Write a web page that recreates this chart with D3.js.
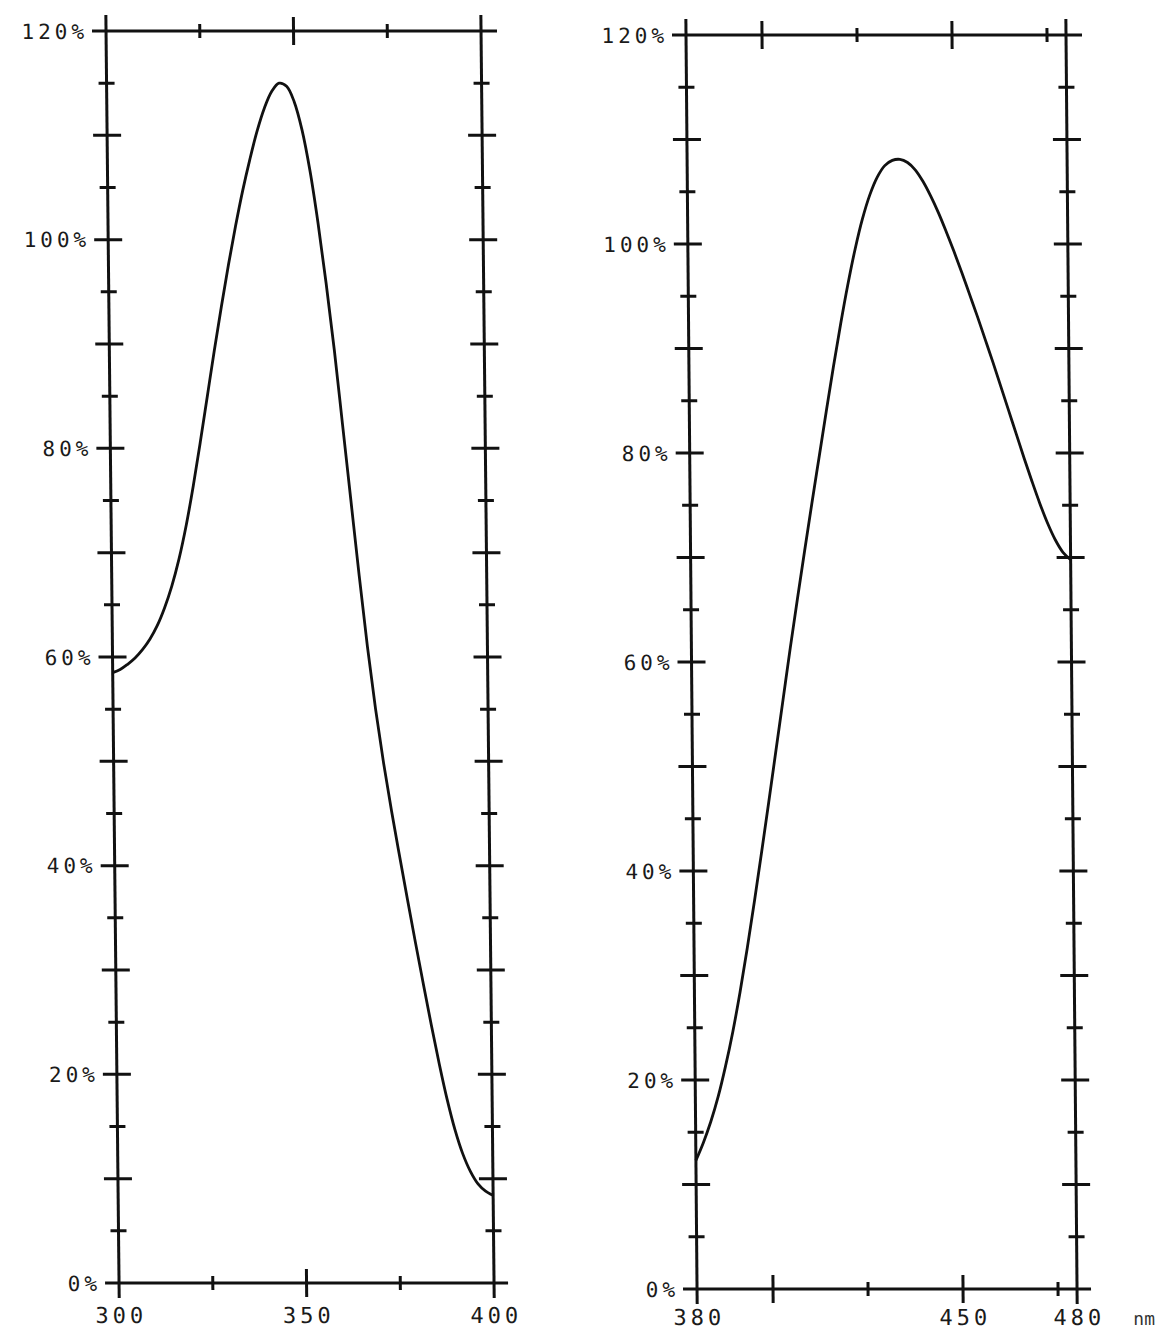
<!DOCTYPE html>
<html lang="en">
  <head>
    <meta charset="UTF-8" />
    <title>Relative spectra</title>

    <script src="https://d3js.org/d3.v7.min.js"></script>

    <style>
      body {
        margin: 0;
        background: #fff;
      }
      .lbl {
        font-family: "DejaVu Sans Mono", monospace;
        font-size: 21px;
        letter-spacing: 4px;
        fill: #1a1a1a;
      }
      .xlbl {
        font-size: 22px;
      }
      .unit {
        font-family: "DejaVu Sans Mono", monospace;
        font-size: 18px;
        fill: #333;
      }
    </style>
  </head>

  <body>
    <svg width="1164" height="1331"></svg>

    <script>
      // left spectrum, 300-400 nm (relative %)
      const leftNm = [
        300, 302, 304, 306, 308, 310, 312, 314, 316, 318, 320, 322, 324, 326,
        328, 330, 332, 334, 336, 338, 340, 342, 344, 346, 348, 350, 352, 354,
        356, 358, 360, 362, 364, 366, 368, 370, 372, 374, 376, 378, 380, 382,
        384, 386, 388, 390, 392, 394, 396, 398, 400,
      ];
      const leftPct = [
        58.5, 58.8, 59.3, 59.9, 60.7, 61.7, 63, 64.7, 66.8, 69.4, 72.6, 76.4,
        80.6, 85, 89.4, 93.6, 97.6, 101.3, 104.7, 107.7, 110.4, 112.6, 114.2,
        115, 114.7, 113.2, 110.5, 106.6, 101.6, 95.8, 89.4, 82.2, 75, 67.8, 61,
        55, 49.8, 45.2, 40.9, 36.7, 32.6, 28.6, 24.7, 21, 17.6, 14.7, 12.4,
        10.7, 9.5, 8.8, 8.4,
      ];

      // right spectrum, 380-480 nm (relative %)
      const rightNm = [
        380, 382, 384, 386, 388, 390, 392, 394, 396, 398, 400, 402, 404, 406,
        408, 410, 412, 414, 416, 418, 420, 422, 424, 426, 428, 430, 432, 434,
        436, 438, 440, 442, 444, 446, 448, 450, 452, 454, 456, 458, 460, 462,
        464, 466, 468, 470, 472, 474, 476, 478, 480,
      ];
      const rightPct = [
        12.3, 14, 16, 18.4, 21.3, 24.6, 28.4, 32.6, 37.1, 41.8, 46.6, 51.5,
        56.4, 61.3, 66, 70.6, 75.1, 79.5, 83.9, 88.2, 92.3, 96.1, 99.5, 102.4,
        104.7, 106.4, 107.5, 108, 108.1, 107.8, 107.1, 106, 104.6, 103, 101.2,
        99.3, 97.3, 95.2, 93.1, 90.9, 88.7, 86.4, 84.1, 81.8, 79.5, 77.3, 75.2,
        73.3, 71.7, 70.5, 69.8,
      ];

      // tick values
      const yTickValues = d3.range(5, 120, 5);
      const yLabelValues = d3.range(0, 121, 20);
      const leftXTicks = [325, 350, 375];
      const leftXLong = [350];
      const leftXLabels = [300, 350, 400];
      const rightXTicks = [400, 425, 450, 475];
      const rightXLong = [400, 450];
      const rightXLabels = [380, 450, 480];

      const svg = d3.select("svg");

      // the original plot is a slightly slanted scan, hence the skew
      const panels = [
        {
          nm: leftNm,
          pct: leftPct,
          domain: [300, 400],
          xr: [105.7, 480.7],
          yr: [1283, 31],
          skew: 0.596,
          xTicks: leftXTicks,
          xLong: leftXLong,
          xLabels: leftXLabels,
          unit: null,
        },
        {
          nm: rightNm,
          pct: rightPct,
          domain: [380, 480],
          xr: [685.7, 1065.7],
          yr: [1289, 35],
          skew: 0.504,
          xTicks: rightXTicks,
          xLong: rightXLong,
          xLabels: rightXLabels,
          unit: "nm",
        },
      ];

      panels.forEach(function (p) {
        const x = d3.scaleLinear().domain(p.domain).range(p.xr);
        const y = d3.scaleLinear().domain([0, 120]).range(p.yr);
        const x0 = p.xr[0],
          x1 = p.xr[1];

        const g = svg
          .append("g")
          .attr("transform", "skewX(" + p.skew + ")")
          .attr("stroke", "#111")
          .attr("stroke-width", 3)
          .attr("stroke-linecap", "butt");

        // frame
        const frame = [
          [x0 - 14, y(120), x1 + 16, y(120)],
          [x0 - 14, y(0), x1 + 14, y(0)],
          [x0, y(120) - 16, x0, y(0) + 15],
          [x1, y(120) - 16, x1, y(0) + 15],
        ];
        g.append("g")
          .selectAll("line")
          .data(frame)
          .join("line")
          .attr("x1", (d) => d[0])
          .attr("y1", (d) => d[1])
          .attr("x2", (d) => d[2])
          .attr("y2", (d) => d[3]);

        // y ticks: crosses on both vertical axes
        [x0, x1].forEach(function (ax) {
          g.append("g")
            .selectAll("line")
            .data(yTickValues)
            .join("line")
            .attr("x1", (d) => ax - (d % 10 === 0 ? 14 : 8))
            .attr("x2", (d) => ax + (d % 10 === 0 ? 14 : 8))
            .attr("y1", (d) => y(d))
            .attr("y2", (d) => y(d));
        });

        // x ticks on top and bottom lines
        [y(0), y(120)].forEach(function (ay) {
          g.append("g")
            .selectAll("line")
            .data(p.xTicks)
            .join("line")
            .attr("x1", (d) => x(d))
            .attr("x2", (d) => x(d))
            .attr("y1", (d) => ay - (p.xLong.includes(d) ? 14 : 7))
            .attr("y2", (d) => ay + (p.xLong.includes(d) ? 14 : 7));
        });

        // curve
        const pts = d3.zip(p.nm, p.pct);
        const line = d3
          .line()
          .x((d) => x(d[0]))
          .y((d) => y(d[1]))
          .curve(d3.curveCatmullRom.alpha(0.5));
        g.append("path")
          .datum(pts)
          .attr("fill", "none")
          .attr("stroke-width", 2.8)
          .attr("stroke-linejoin", "round")
          .attr("d", line);

        // labels
        const t = svg
          .append("g")
          .attr("transform", "skewX(" + p.skew + ")");
        t.selectAll(".ylbl")
          .data(yLabelValues)
          .join("text")
          .attr("class", "lbl ylbl")
          .attr("x", x0 - 18)
          .attr("y", (d) => y(d))
          .attr("dy", "0.36em")
          .attr("text-anchor", "end")
          .text((d) => d + "%");

        const labelY = Math.min(y(0) + 40, 1325);
        t.selectAll(".xlbl")
          .data(p.xLabels)
          .join("text")
          .attr("class", "lbl xlbl")
          .attr("x", (d) => x(d) + 2)
          .attr("y", labelY)
          .attr("text-anchor", "middle")
          .text((d) => d);

        if (p.unit) {
          t.append("text")
            .attr("class", "unit")
            .attr("x", x1 + 56)
            .attr("y", labelY)
            .text(p.unit);
        }
      });
    </script>
  </body>
</html>
